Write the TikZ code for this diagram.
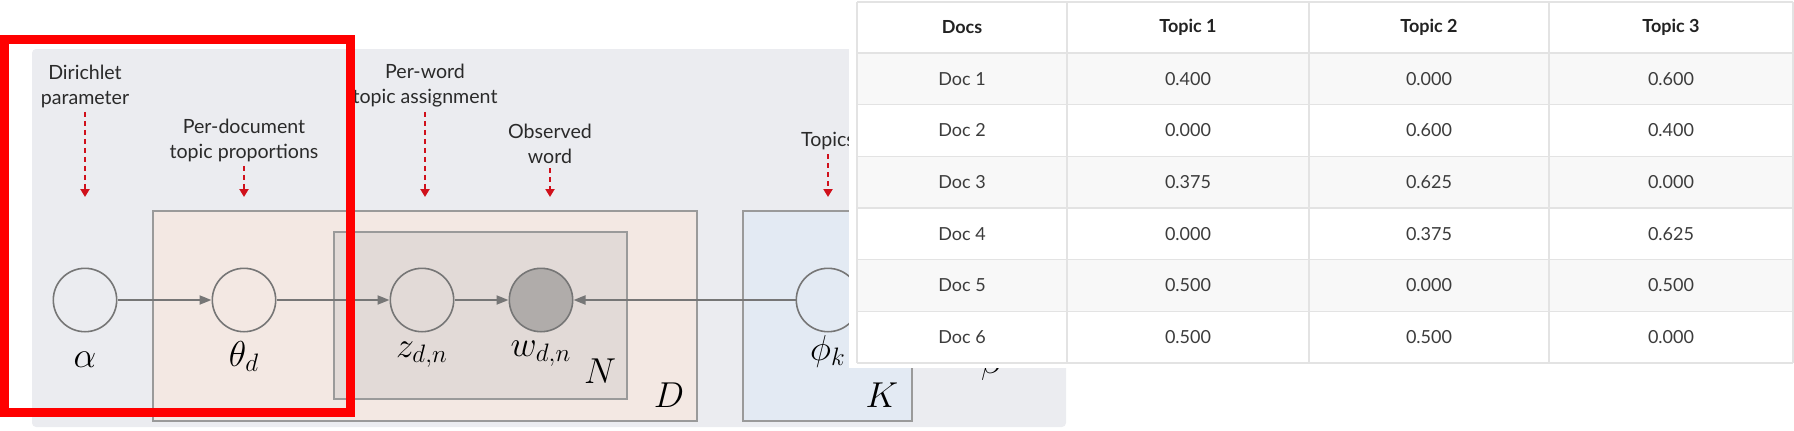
\documentclass[tikz,border=0pt]{standalone}
\usepackage{fix-cm}
\usepackage{amsmath}
\usepackage{fontspec}
\setmainfont{Lato}
\usetikzlibrary{arrows.meta,positioning}

\definecolor{panelbg}{HTML}{EBECF0}
\definecolor{plateD}{HTML}{F3E8E3}
\definecolor{plateN}{HTML}{E2DAD7}
\definecolor{plateK}{HTML}{E3EAF3}
\definecolor{plateline}{HTML}{9A9A9A}
\definecolor{obsfill}{HTML}{B0ACAA}
\definecolor{edgegray}{HTML}{767676}
\definecolor{notered}{HTML}{D0101B}
\definecolor{notetext}{HTML}{2A2A2A}
\definecolor{tabline}{HTML}{E3E3E3}
\definecolor{tabshade}{HTML}{F8F8F8}
\definecolor{celltext}{HTML}{3C3C3C}
\definecolor{headtext}{HTML}{222222}

\newcommand\notefont{\fontsize{9.8}{12.5}\selectfont}
\newcommand\symfont{\fontsize{18}{20}\selectfont}
\newcommand\cellfont{\fontsize{9}{11}\selectfont}

\begin{document}
\begin{tikzpicture}[x=0.5pt,y=-0.5pt,
    latent/.style={circle,draw=edgegray,line width=0.8pt,minimum size=31.7pt,inner sep=0pt},
    observed/.style={latent,fill=obsfill},
    plate/.style={draw=plateline,line width=0.8pt},
    edge/.style={draw=edgegray,line width=1pt,-{Triangle[length=6pt,width=4.5pt]}},
    note/.style={font=\notefont,align=center,text=notetext,inner sep=2pt},
    notearrow/.style={notered,line width=1pt,dash pattern=on 2.5pt off 2pt,-{Triangle[length=4pt,width=4.5pt]}},
    sym/.style={font=\symfont,anchor=base,inner sep=0pt},
    cell/.style={font=\cellfont,text=celltext},
    head/.style={font=\cellfont\bfseries,text=headtext}]
    \useasboundingbox (0,0) rectangle (1794,430);
    % panel and plates
    \fill[panelbg,rounded corners=2pt] (32,49) rectangle (1066,427);
    \draw[plate,fill=plateD] (153,211) rectangle (697,421);
    \draw[plate,fill=plateN] (334,232) rectangle (627,399);
    \draw[plate,fill=plateK] (743,211) rectangle (912,421);
    % variables
    \node[latent] (alpha) at (85,300) {};
    \node[latent] (theta) at (244,300) {};
    \node[latent] (z) at (422,300) {};
    \node[observed] (w) at (541,300) {};
    \node[latent] (phi) at (828,300) {};
    \draw[edge] (alpha) -- (theta);
    \draw[edge] (theta) -- (z);
    \draw[edge] (z) -- (w);
    \draw[edge] (phi) -- (w);
    \node[sym] (lalpha) at (85,367) {$\alpha$};
    \node[sym] (ltheta) at (244,366) {$\theta_d$};
    \node[sym] (lz) at (422,357) {$z_{d,n}$};
    \node[sym] (lw) at (541,356) {$w_{d,n}$};
    \node[sym] (lphi) at (828,360) {$\phi_k$};
    \node[sym] (lN) at (600,383) {$N$};
    \node[sym] (lD) at (669,407) {$D$};
    \node[sym] (lK) at (882,407) {$K$};
    \node[sym] (lbeta) at (992,373) {$\beta$};
    % annotations
    \node[note] (ndir) at (85,86) {Dirichlet\\parameter};
    \node[note] (ndoc) at (244,140) {Per-document\\topic proportions};
    \node[note] (nword) at (425,86) {Per-word\\topic assignment};
    \node[note] (nobs) at (550,144) {Observed\\word};
    \node[note] (ntop) at (828,141) {Topics};
    \draw[notearrow] (ndir) -- (85,197);
    \draw[notearrow] (ndoc) -- (244,197);
    \draw[notearrow] (nword) -- (425,197);
    \draw[notearrow] (nobs) -- (550,197);
    \draw[notearrow] (ntop) -- (828,197);
    % highlight
    \draw[red,line width=4.5pt] (4.5,39.5) rectangle (350,412);
    % table
    \fill[white] (849,0) rectangle (1794,368);
    \foreach \r in {1,3,5}
        \fill[tabshade] (857,{53+51.667*(\r-1)}) rectangle (1793,{53+51.667*\r});
    \draw[tabline,line width=0.8pt] (857,2) -- (1793,2);
    \foreach \r in {0,...,6}
        \draw[tabline,line width=0.8pt] (857,{53+51.667*\r}) -- (1793,{53+51.667*\r});
    \foreach \xx in {857,1067,1309,1549,1793}
        \draw[tabline,line width=0.8pt] (\xx,2) -- (\xx,363);
    \node[head] (hdocs) at (962,27.5) {Docs};
    \node[head] (htopa) at (1188,27.5) {Topic 1};
    \node[head] (htopb) at (1429,27.5) {Topic 2};
    \node[head] (htopc) at (1671,27.5) {Topic 3};
    \foreach \r/\a/\b/\c in {1/0.400/0.000/0.600,2/0.000/0.600/0.400,3/0.375/0.625/0.000,
        4/0.000/0.375/0.625,5/0.500/0.000/0.500,6/0.500/0.500/0.000}{
        \pgfmathsetmacro\yc{53+51.667*(\r-0.5)}
        \node[cell] (doc\r) at (962,\yc) {Doc \r};
        \node[cell] (ta\r) at (1188,\yc) {\a};
        \node[cell] (tb\r) at (1429,\yc) {\b};
        \node[cell] (tc\r) at (1671,\yc) {\c};
    }
\end{tikzpicture}
\end{document}
